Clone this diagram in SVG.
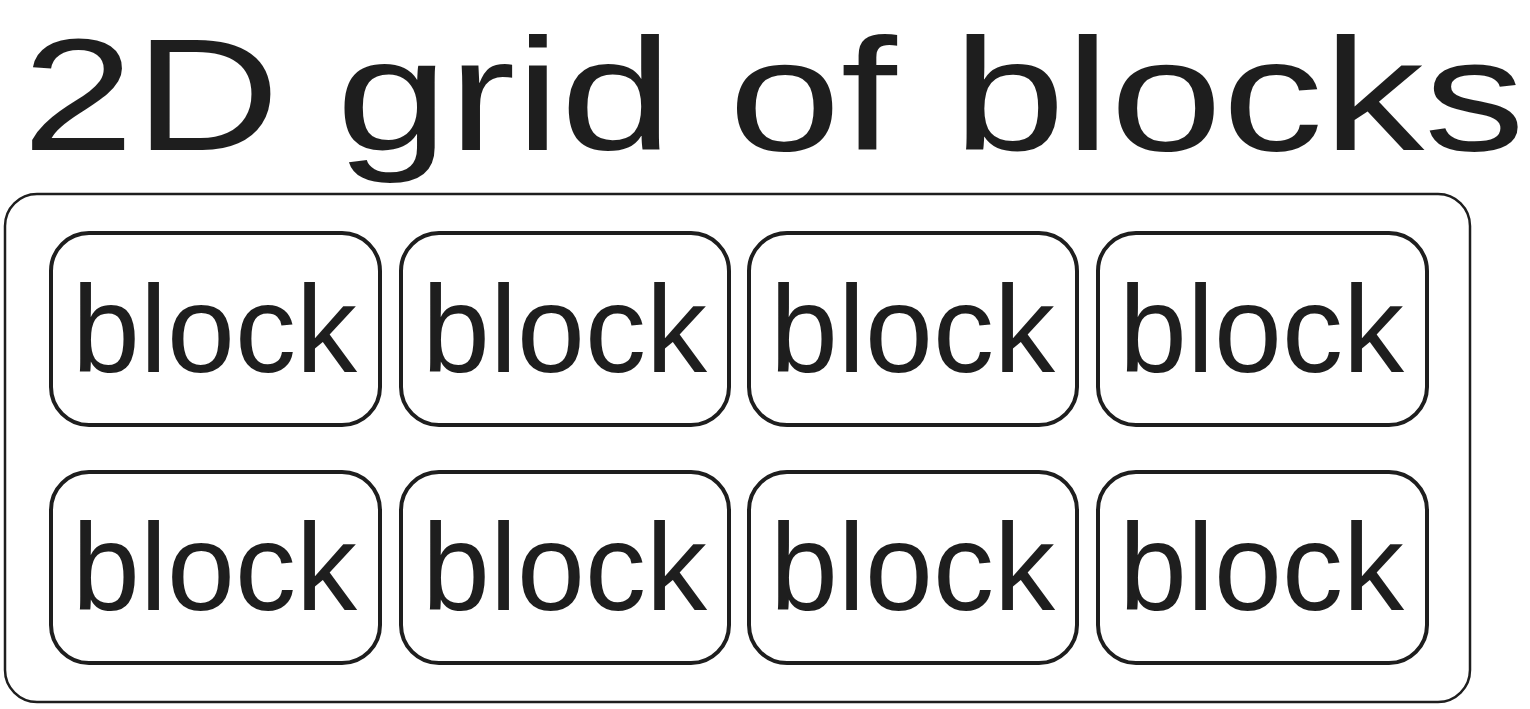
<svg xmlns="http://www.w3.org/2000/svg" width="1530" height="709" viewBox="0 0 1530 709">
  <style>
    .box { fill: none; stroke: #1e1e1e; stroke-width: 4; }
    .outer { fill: none; stroke: #1e1e1e; stroke-width: 2.5; }
    .lbl { font-family: "Liberation Sans", Arial, sans-serif; font-size: 124px; fill: #1e1e1e; }
    .title { font-family: "Liberation Sans", Arial, sans-serif; font-size: 160px; fill: #1e1e1e; }
  </style>
  <rect width="1530" height="709" fill="#ffffff"/>
  <g id="title">
    <text class="title" x="22" y="150" textLength="1503" lengthAdjust="spacingAndGlyphs">2D grid of blocks</text>
  </g>
  <g id="grid">
    <rect class="outer" x="5" y="194" width="1465" height="508" rx="32" ry="32"/>
  </g>
  <g id="block-1-1">
    <rect class="box" x="51" y="233" width="329" height="192" rx="38" ry="38"/>
    <text class="lbl" x="72" y="372" textLength="285" lengthAdjust="spacingAndGlyphs">block</text>
  </g>
  <g id="block-1-2">
    <rect class="box" x="401" y="233" width="328" height="192" rx="38" ry="38"/>
    <text class="lbl" x="422" y="372" textLength="285" lengthAdjust="spacingAndGlyphs">block</text>
  </g>
  <g id="block-1-3">
    <rect class="box" x="749" y="233" width="328" height="192" rx="38" ry="38"/>
    <text class="lbl" x="770" y="372" textLength="285" lengthAdjust="spacingAndGlyphs">block</text>
  </g>
  <g id="block-1-4">
    <rect class="box" x="1098" y="233" width="329" height="192" rx="38" ry="38"/>
    <text class="lbl" x="1119" y="372" textLength="285" lengthAdjust="spacingAndGlyphs">block</text>
  </g>
  <g id="block-2-1">
    <rect class="box" x="51" y="472" width="329" height="191" rx="38" ry="38"/>
    <text class="lbl" x="72" y="610" textLength="285" lengthAdjust="spacingAndGlyphs">block</text>
  </g>
  <g id="block-2-2">
    <rect class="box" x="401" y="472" width="328" height="191" rx="38" ry="38"/>
    <text class="lbl" x="422" y="610" textLength="285" lengthAdjust="spacingAndGlyphs">block</text>
  </g>
  <g id="block-2-3">
    <rect class="box" x="749" y="472" width="328" height="191" rx="38" ry="38"/>
    <text class="lbl" x="770" y="610" textLength="285" lengthAdjust="spacingAndGlyphs">block</text>
  </g>
  <g id="block-2-4">
    <rect class="box" x="1098" y="472" width="329" height="191" rx="38" ry="38"/>
    <text class="lbl" x="1119" y="610" textLength="285" lengthAdjust="spacingAndGlyphs">block</text>
  </g>
  <g id="connectors"></g>
</svg>
